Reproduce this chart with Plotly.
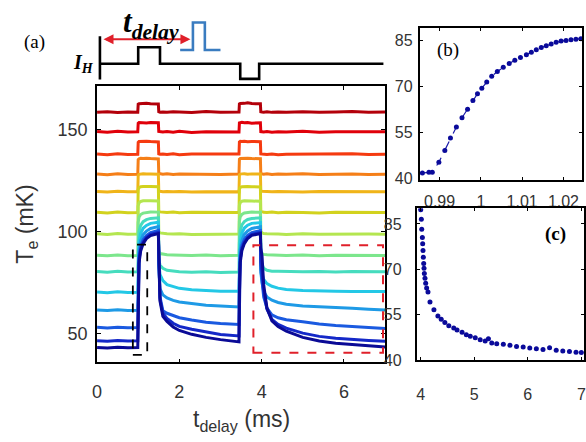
import plotly.graph_objects as go

# ---------------- data ----------------
# shared time grid (ms) for panel (a) traces
T_MS = [0, 0.25, 0.5, 0.75, 0.99,
        1.0, 1.02, 1.06, 1.12, 1.2, 1.3, 1.49,
        1.5, 1.53, 1.6, 1.7, 1.85, 2.0, 2.3, 2.65, 3.0, 3.45,
        3.46, 3.48, 3.52, 3.58, 3.66, 3.76, 3.97,
        3.98, 4.01, 4.05, 4.13, 4.25, 4.4, 4.6, 5.0, 5.4, 5.8, 6.2, 6.6, 7.0]

TE_1 = [158.3, 158.6, 158.2, 158.5, 158.4,
        162.3, 162.5, 162.6, 162.4, 162.7, 162.5, 162.4,
        158.6, 158.4, 158.5, 158.3, 158.6, 158.4, 158.2, 158.7, 158.4, 158.5,
        162.4, 162.6, 162.5, 162.7, 163.0, 162.6, 162.5,
        158.6, 158.5, 158.4, 158.6, 158.3, 158.5, 158.4, 158.6, 158.3, 158.5, 158.7, 158.4, 158.5]
TE_2 = [148.9, 148.6, 149.0, 148.7, 148.8,
        153.0, 153.3, 153.2, 153.4, 153.1, 153.3, 153.2,
        149.0, 148.8, 148.7, 148.9, 148.6, 149.0, 148.5, 148.8, 148.9, 148.7,
        153.1, 153.3, 153.4, 153.2, 153.3, 153.0, 153.2,
        148.9, 148.8, 148.7, 148.9, 148.6, 148.8, 148.7, 149.0, 148.6, 148.8, 148.9, 148.7, 148.8]
TE_3 = [137.9, 137.6, 138.0, 137.7, 137.8,
        143.6, 144.0, 144.1, 143.9, 144.2, 144.0, 143.8,
        138.0, 137.8, 137.9, 137.7, 138.0, 137.6, 137.9, 137.8, 137.7, 137.9,
        143.8, 144.1, 144.0, 144.2, 143.9, 144.1, 143.9,
        138.0, 137.9, 137.8, 137.7, 137.9, 137.6, 137.8, 137.9, 137.7, 137.8, 138.0, 137.7, 137.8]
TE_4 = [128.1, 127.8, 128.3, 127.9, 128.0,
        135.2, 135.6, 135.8, 135.7, 135.9, 135.7, 135.5,
        128.4, 128.2, 128.0, 128.3, 127.9, 128.1, 128.0, 128.2, 127.9, 128.1,
        135.4, 135.7, 135.8, 135.6, 135.9, 135.7, 135.6,
        128.3, 128.1, 128.0, 128.2, 127.9, 128.1, 128.0, 128.3, 127.9, 128.0, 128.2, 127.9, 128.0]
TE_5 = [119.6, 119.3, 119.7, 119.4, 119.5,
        127.5, 128.0, 128.2, 128.3, 128.1, 128.2, 128.0,
        120.0, 119.7, 119.5, 119.6, 119.4, 119.6, 119.3, 119.5, 119.6, 119.4,
        127.8, 128.1, 128.2, 128.3, 128.0, 128.2, 128.1,
        119.9, 119.7, 119.6, 119.5, 119.4, 119.6, 119.5, 119.3, 119.6, 119.5, 119.4, 119.6, 119.5]
TE_6 = [109.4, 109.1, 109.5, 109.2, 109.3,
        120.5, 121.5, 121.9, 122.0, 122.1, 122.0, 121.9,
        110.0, 109.6, 109.4, 109.3, 109.5, 109.2, 109.4, 109.3, 109.1, 109.3,
        120.8, 121.6, 121.9, 122.1, 122.0, 121.9, 121.8,
        110.0, 109.6, 109.4, 109.3, 109.5, 109.2, 109.4, 109.3, 109.1, 109.4, 109.3, 109.2, 109.3]
TE_7 = [98.9, 98.6, 99.0, 98.7, 98.8,
        112.5, 114.0, 114.7, 115.0, 115.1, 115.0, 114.9,
        100.0, 99.3, 99.0, 98.9, 98.8, 98.9, 98.6, 98.8, 98.7, 98.8,
        112.8, 114.2, 114.8, 115.0, 115.1, 114.9, 114.8,
        100.0, 99.4, 99.0, 98.9, 98.7, 98.8, 98.6, 98.9, 98.7, 98.8, 98.6, 98.8, 98.7]
TE_8 = [88.4, 88.1, 88.5, 88.2, 88.3,
        104.5, 107.0, 108.3, 109.0, 109.4, 109.6, 109.5,
        90.5, 89.2, 88.8, 88.6, 88.5, 88.4, 88.3, 88.5, 88.2, 88.4,
        105.0, 107.2, 108.4, 109.1, 109.4, 109.5, 109.4,
        90.5, 89.2, 88.8, 88.6, 88.5, 88.4, 88.3, 88.5, 88.2, 88.4, 88.3, 88.5, 88.3]
TE_9 = [80.4, 80.1, 80.5, 80.2, 80.3,
        94.0, 100.0, 103.0, 104.8, 105.8, 106.4, 106.7,
        87.0, 83.5, 82.0, 81.0, 80.5, 80.3, 80.1, 80.3, 80.0, 80.2,
        94.5, 100.2, 103.2, 104.9, 105.9, 106.4, 106.7,
        86.0, 84.0, 82.0, 81.0, 80.6, 80.5, 80.4, 80.3, 80.4, 80.2, 80.4, 80.3, 80.3]
TE_10 = [70.4, 70.1, 70.5, 70.2, 70.3,
         87.0, 95.0, 99.0, 101.6, 103.0, 104.0, 104.5,
         85.0, 79.0, 76.0, 74.0, 73.0, 72.2, 71.5, 71.0, 70.8, 70.8,
         87.5, 95.3, 99.2, 101.7, 103.1, 104.0, 104.4,
         82.0, 79.5, 76.5, 74.5, 73.2, 72.3, 71.6, 71.1, 70.8, 70.8, 70.7, 70.6, 70.6]
TE_11 = [61.6, 61.3, 61.7, 61.4, 61.5,
         81.0, 91.0, 95.5, 98.5, 100.2, 101.5, 102.4,
         84.0, 72.0, 69.0, 67.5, 66.3, 65.5, 64.6, 63.9, 63.5, 63.1,
         81.5, 91.3, 95.7, 98.6, 100.3, 101.5, 102.3,
         80.0, 75.0, 70.5, 68.0, 66.4, 65.3, 64.4, 63.6, 63.1, 62.7, 62.4, 62.0, 61.6]
TE_12 = [53.1, 52.8, 53.2, 52.9, 53.0,
         76.0, 88.0, 93.0, 96.0, 98.0, 99.5, 100.5,
         85.0, 68.0, 61.2, 60.0, 58.8, 57.8, 56.7, 55.6, 55.0, 54.5,
         76.5, 88.3, 93.2, 96.1, 98.1, 99.5, 100.4,
         82.0, 76.0, 68.0, 62.5, 59.2, 57.8, 56.8, 55.8, 54.7, 54.0, 53.4, 53.0, 52.6]
TE_13 = [46.6, 46.3, 46.7, 46.4, 46.5,
         72.0, 86.0, 91.5, 94.8, 97.0, 98.6, 99.6,
         88.0, 67.0, 60.0, 57.5, 55.1, 53.6, 52.2, 50.8, 49.6, 48.9,
         72.5, 86.3, 91.7, 94.9, 97.1, 98.6, 99.5,
         85.0, 80.0, 71.0, 62.0, 57.0, 54.6, 52.7, 50.3, 48.7, 47.8, 47.1, 46.7, 46.3]
TE_14 = [43.3, 43.0, 43.4, 43.1, 43.2,
         69.0, 84.5, 90.5, 94.0, 96.5, 98.0, 99.0,
         90.0, 66.0, 58.5, 56.0, 53.3, 51.6, 49.7, 48.2, 47.1, 46.0,
         69.5, 84.8, 90.7, 94.1, 96.6, 98.1, 99.0,
         92.0, 88.0, 74.0, 62.5, 56.3, 53.5, 51.2, 48.2, 46.4, 45.3, 44.6, 44.1, 43.5]

TE_TRACES = [TE_1, TE_2, TE_3, TE_4, TE_5, TE_6, TE_7,
             TE_8, TE_9, TE_10, TE_11, TE_12, TE_13, TE_14]

# panel (b): rise at pulse onset
B_T = [0.98585, 0.98743, 0.98825, 0.98984, 0.99128, 0.99264, 0.99408, 0.99544,
       0.99679, 0.99808, 0.99919, 1.00023, 1.00143, 1.00263, 1.00399, 1.00543,
       1.00687, 1.00823, 1.00959, 1.01103, 1.01223, 1.01343, 1.01463, 1.01583,
       1.01703, 1.01823, 1.01943, 1.02063, 1.02183, 1.02302, 1.02422]
B_TE = [41.9, 42.1, 42.1, 45.4, 49.2, 53.2, 56.8, 59.8, 62.6, 65.4, 67.6, 69.4,
        71.4, 73.3, 74.8, 76.2, 77.4, 78.5, 79.4, 80.3, 81.1, 81.9, 82.6, 83.2,
        83.8, 84.3, 84.7, 84.9, 85.1, 85.3, 85.5]

# panel (c): relaxation after second pulse
C_T = [4.0, 4.012, 4.019, 4.031, 4.037, 4.043, 4.049, 4.056, 4.062, 4.068, 4.080,
       4.093, 4.111, 4.136, 4.173, 4.247, 4.321, 4.383, 4.451, 4.525, 4.617,
       4.679, 4.772, 4.852, 4.926, 5.019, 5.111, 5.204, 5.265, 5.327, 5.420,
       5.543, 5.667, 5.790, 5.914, 6.037, 6.160, 6.284, 6.407, 6.531, 6.654,
       6.778, 6.901, 7.0]
C_TE = [89.7, 86.5, 83.2, 80.5, 78.4, 76.2, 74.0, 71.9, 70.3, 68.6, 67.0,
        65.4, 63.8, 62.5, 59.2, 56.6, 54.6, 53.5, 52.4, 51.3, 50.6,
        49.9, 49.2, 48.4, 47.9, 47.4, 46.7, 46.3, 47.0, 45.6, 45.4,
        45.2, 44.9, 44.5, 44.3, 44.0, 43.7, 43.5, 44.1, 43.2, 43.0,
        42.8, 42.6, 42.5]

# schematic of heater current I_H and probe pulse
IH_T = [0.07, 1.0, 1.0, 1.53, 1.53, 3.48, 3.48, 3.94, 3.94, 6.96]
IH_LEVEL = [0.33, 0.33, 0.57, 0.57, 0.33, 0.33, 0.11, 0.11, 0.33, 0.33]
PROBE_T = [2.02, 2.33, 2.33, 2.62, 2.62, 3.0]
PROBE_LEVEL = [0.53, 0.53, 0.93, 0.93, 0.53, 0.53]

MAIN_XTICKS = [0, 2, 4, 6]
MAIN_YTICKS = [50, 100, 150]
B_XTICKS = [0.99, 1, 1.01, 1.02]
B_XTICKTEXT = ["0.99", "1", "1.01", "1.02"]
SIDE_YTICKS = [40, 55, 70, 85]
C_XTICKS = [4, 5, 6, 7]

# ---------------- styles ----------------
COLORS = ["#b3000a", "#e0000a", "#f53a10", "#f57f18", "#f0b419", "#d2d21e",
          "#b4e650", "#7ce68c", "#46dcbe", "#23c8e6", "#1e9ae6", "#1a5ae0",
          "#1428c8", "#0a0a96"]
W, H = 586, 442
SANS = "Liberation Sans, Arial, sans-serif"
SERIF = "Liberation Serif, Times New Roman, serif"
TICKC = "#333333"


def px(x):
    return x / W


def py(y):
    return 1 - y / H


fig = go.Figure()

for vals, col in zip(TE_TRACES, COLORS):
    fig.add_trace(go.Scatter(x=T_MS, y=vals, mode="lines",
                             line=dict(color=col, width=3),
                             xaxis="x", yaxis="y", showlegend=False))

fig.add_trace(go.Scatter(x=IH_T, y=IH_LEVEL, mode="lines",
                         line=dict(color="black", width=2.6),
                         xaxis="x2", yaxis="y2", showlegend=False))
fig.add_trace(go.Scatter(x=PROBE_T, y=PROBE_LEVEL, mode="lines",
                         line=dict(color="#3a7cc0", width=2.6),
                         xaxis="x2", yaxis="y2", showlegend=False))

fig.add_trace(go.Scatter(x=B_T, y=B_TE, mode="lines+markers",
                         line=dict(color="#1a1aa8", width=1.2, dash="dash"),
                         marker=dict(color="#0a0a9a", size=5),
                         xaxis="x3", yaxis="y3", showlegend=False))
fig.add_trace(go.Scatter(x=C_T, y=C_TE, mode="markers",
                         marker=dict(color="#0a0a9a", size=5),
                         xaxis="x4", yaxis="y4", showlegend=False))

frame = dict(showline=True, linecolor="black", mirror="ticks", ticks="inside",
             showgrid=False, zeroline=False, tickcolor="black")

fig.update_layout(
    width=W, height=H, autosize=False,
    margin=dict(l=0, r=0, t=0, b=0),
    paper_bgcolor="white", plot_bgcolor="white",
    xaxis=dict(domain=[px(93), px(384)], range=[0, 7], tickvals=MAIN_XTICKS,
               ticklen=4, linewidth=1.6, ticklabelstandoff=12,
               tickfont=dict(family=SANS, size=18, color=TICKC), **frame),
    yaxis=dict(domain=[py(369), py(88)], range=[36, 171], tickvals=MAIN_YTICKS,
               ticklen=4, linewidth=1.6, ticklabelstandoff=4,
               tickfont=dict(family=SANS, size=18, color=TICKC), **frame),
    xaxis2=dict(domain=[px(93), px(384)], range=[0, 7], visible=False,
                anchor="y2"),
    yaxis2=dict(domain=[py(88), py(18)], range=[0, 1], visible=False,
                anchor="x2"),
    xaxis3=dict(domain=[px(419), px(583)], range=[0.9852, 1.0245],
                tickvals=B_XTICKS, ticktext=B_XTICKTEXT, anchor="y3",
                ticklen=3, linewidth=1.8, ticklabelstandoff=6,
                tickfont=dict(family=SANS, size=16, color=TICKC), **frame),
    yaxis3=dict(domain=[py(183), py(29)], range=[39.7, 88.8], tickvals=SIDE_YTICKS,
                anchor="x3", ticklen=3, linewidth=1.8, ticklabelstandoff=2,
                tickfont=dict(family=SANS, size=16, color=TICKC), **frame),
    xaxis4=dict(domain=[px(416), px(585)], range=[3.926, 7.05],
                tickvals=C_XTICKS, anchor="y4",
                ticklen=3, linewidth=1.8, ticklabelstandoff=19,
                tickfont=dict(family=SANS, size=16, color=TICKC), **frame),
    yaxis4=dict(domain=[py(367), py(212)], range=[39.9, 90.2], tickvals=SIDE_YTICKS,
                anchor="x4", ticklen=3, linewidth=1.8, ticklabelstandoff=10,
                tickfont=dict(family=SANS, size=16, color=TICKC), **frame),
)

# dashed boxes
fig.add_shape(type="rect", xref="x", yref="y", x0=0.87, x1=1.22, y0=39.6, y1=93.6,
              line=dict(color="black", width=1.8, dash="dash"))
fig.add_shape(type="rect", xref="x", yref="y", x0=3.8, x1=6.95, y0=40.7, y1=93.3,
              line=dict(color="#e0202a", width=2, dash="dash"))
# I_H axis bar
fig.add_shape(type="line", xref="x2", yref="y2", x0=0.07, x1=0.07, y0=0.1, y1=0.73,
              line=dict(color="black", width=2.6))

# double arrow t_delay
fig.add_annotation(x=2.27, y=0.686, ax=0.12, ay=0.686, xref="x2", yref="y2",
                   axref="x2", ayref="y2", text="", showarrow=True,
                   arrowhead=2, arrowside="end+start", arrowsize=1,
                   arrowwidth=2, arrowcolor="#e0202a")

ann = [
    dict(text="<b><i>t<sub>delay</sub></i></b>", x=px(148), y=py(24),
         font=dict(family=SERIF, size=31, color="black")),
    dict(text="<b><i>I<sub>H</sub></i></b>", x=px(79), y=py(65),
         font=dict(family=SERIF, size=20, color="black")),
    dict(text="(a)", x=px(30), y=py(43), font=dict(family=SERIF, size=19, color="black")),
    dict(text="(b)", x=px(448), y=py(51), font=dict(family=SERIF, size=19, color="black")),
    dict(text="<b>(c)</b>", x=px(556), y=py(238), font=dict(family=SERIF, size=19, color="black")),
    dict(text="t<sub>delay</sub> (ms)", x=px(239), y=py(428),
         font=dict(family=SANS, size=23, color=TICKC)),
    dict(text="T<sub>e</sub> (mK)", x=px(22), y=py(228), textangle=-90,
         font=dict(family=SANS, size=23, color=TICKC)),
]
for a in ann:
    fig.add_annotation(xref="paper", yref="paper", showarrow=False,
                       xanchor="center", yanchor="middle", **a)

fig.write_html("out.html", config={"displayModeBar": False},
               post_script="document.body.style.margin='0';document.body.style.padding='0';")
